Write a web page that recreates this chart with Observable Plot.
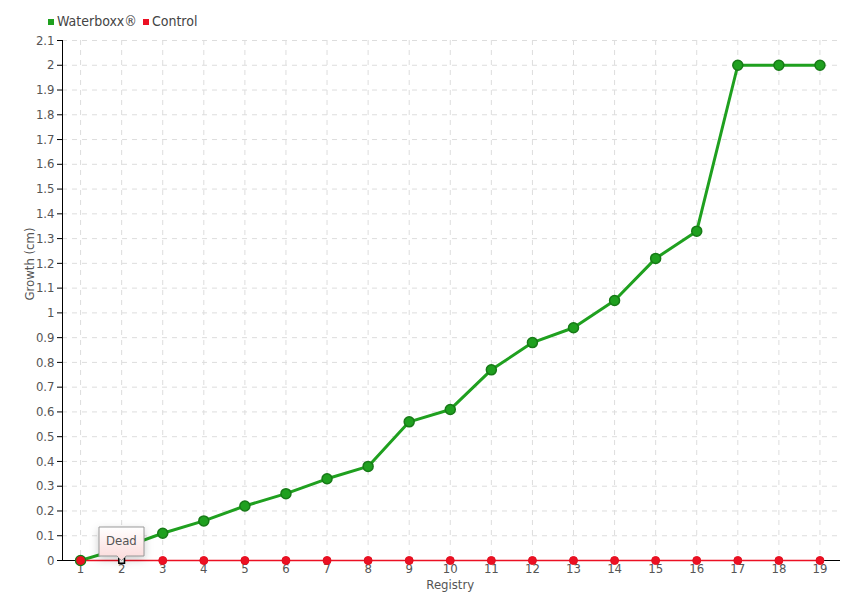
<!DOCTYPE html>
<html>
<head>
<meta charset="utf-8">
<script src="https://cdn.jsdelivr.net/npm/d3@7"></script>
<script src="https://cdn.jsdelivr.net/npm/@observablehq/plot@0.6"></script>
<style>
  body { margin: 0; background: #fff; }
  #wrap { position: relative; width: 860px; height: 600px; font-family: "DejaVu Sans", sans-serif; font-stretch: condensed; }
  #wrap svg { font-stretch: condensed; }
  #legend { position: absolute; left: 48px; top: 13px; font-size: 14px; color: #444; display: flex; gap: 6px; align-items: center; font-stretch: condensed; }
  #legend span.sw { display: inline-block; width: 6px; height: 6px; margin-right: 3px; vertical-align: middle; }
</style>
</head>
<body>
<div id="wrap">
  <div id="legend"></div>
</div>
<script>
const registry = [1,2,3,4,5,6,7,8,9,10,11,12,13,14,15,16,17,18,19];
const waterboxx = [0,0.05,0.11,0.16,0.22,0.27,0.33,0.38,0.56,0.61,0.77,0.88,0.94,1.05,1.22,1.33,2.0,2.0,2.0];
const control = [0,0,0,0,0,0,0,0,0,0,0,0,0,0,0,0,0,0,0];
const yTicks = [0,0.1,0.2,0.3,0.4,0.5,0.6,0.7,0.8,0.9,1,1.1,1.2,1.3,1.4,1.5,1.6,1.7,1.8,1.9,2,2.1];
const seriesNames = ["Waterboxx®", "Control"];
const seriesColors = ["#1fa01f", "#ec1023"];
const annotation = [{x: 2, y: 0, label: "Dead"}];

const wb = registry.map((r, i) => ({x: r, y: waterboxx[i]}));
const ct = registry.map((r, i) => ({x: r, y: control[i]}));

const font = '"DejaVu Sans", sans-serif';

const chart = Plot.plot({
  width: 860,
  height: 600,
  marginTop: 40,
  marginBottom: 40,
  marginLeft: 62,
  marginRight: 20,
  style: {fontFamily: font, fontSize: "13px", color: "#444", background: "#fff"},
  x: {type: "linear", domain: [0.56, 19.5], label: null},
  y: {domain: [0, 2.1], label: null},
  marks: [
    Plot.gridX(registry, {stroke: "#ddd", strokeOpacity: 1, strokeDasharray: "5,5"}),
    Plot.gridY(yTicks, {stroke: "#ddd", strokeOpacity: 1, strokeDasharray: "5,5"}),
    Plot.axisY({ticks: yTicks, tickFormat: d => String(+d.toFixed(1)), tickSize: 5, tickPadding: 3, label: null, stroke: "#000", fill: "#555", fontSize: 13}),
    Plot.axisX({ticks: registry, tickFormat: d => String(d), tickSize: 0, tickPadding: 3, label: null, fill: "#555", fontSize: 13}),
    Plot.ruleY([0], {stroke: "#000", strokeWidth: 1}),
    Plot.ruleX([0.56], {stroke: "#000", strokeWidth: 1}),
    Plot.line(wb, {x: "x", y: "y", stroke: seriesColors[0], strokeWidth: 3}),
    Plot.line(ct, {x: "x", y: "y", stroke: seriesColors[1], strokeWidth: 1.5}),
    Plot.dot(wb, {x: "x", y: "y", r: 5, fill: seriesColors[0], stroke: "#177a17", strokeWidth: 1.5}),
    Plot.dot(ct.filter(d => d.x !== 2), {x: "x", y: "y", r: 4, fill: seriesColors[1], stroke: "#e30e1e", strokeWidth: 1}),
    Plot.dot(ct.filter(d => d.x === 2), {x: "x", y: "y", symbol: "square", r: 3.2, fill: "#fff", stroke: "#000", strokeWidth: 1.5}),
    Plot.text(["Growth (cm)"], {frameAnchor: "left", dx: -33, rotate: -90, fill: "#555", fontSize: 13}),
    Plot.text(["Registry"], {x: 10, y: 0, dy: 24, fill: "#555", fontSize: 13, textAnchor: "middle"}),
    Plot.tip(annotation, {x: "x", y: "y", title: "label", anchor: "bottom", pointerSize: 9, fill: "url(#tipgrad)", stroke: "#999", fontSize: 13, textPadding: 7})
  ]
});

// gradient for the tooltip box
const ns = "http://www.w3.org/2000/svg";
const defs = document.createElementNS(ns, "defs");
defs.innerHTML = '<linearGradient id="tipgrad" x1="0" y1="0" x2="0" y2="1"><stop offset="0" stop-color="#ffffff"/><stop offset="1" stop-color="#fbd9d9"/></linearGradient>';
chart.insertBefore(defs, chart.firstChild);
chart.querySelectorAll("[aria-label=tip] text").forEach(t => t.setAttribute("fill", "#555"));

document.getElementById("wrap").appendChild(chart);

const legend = document.getElementById("legend");
seriesNames.forEach((n, i) => {
  const item = document.createElement("span");
  item.innerHTML = `<span class="sw" style="background:${seriesColors[i]}"></span>${n}`;
  legend.appendChild(item);
});
</script>
</body>
</html>
